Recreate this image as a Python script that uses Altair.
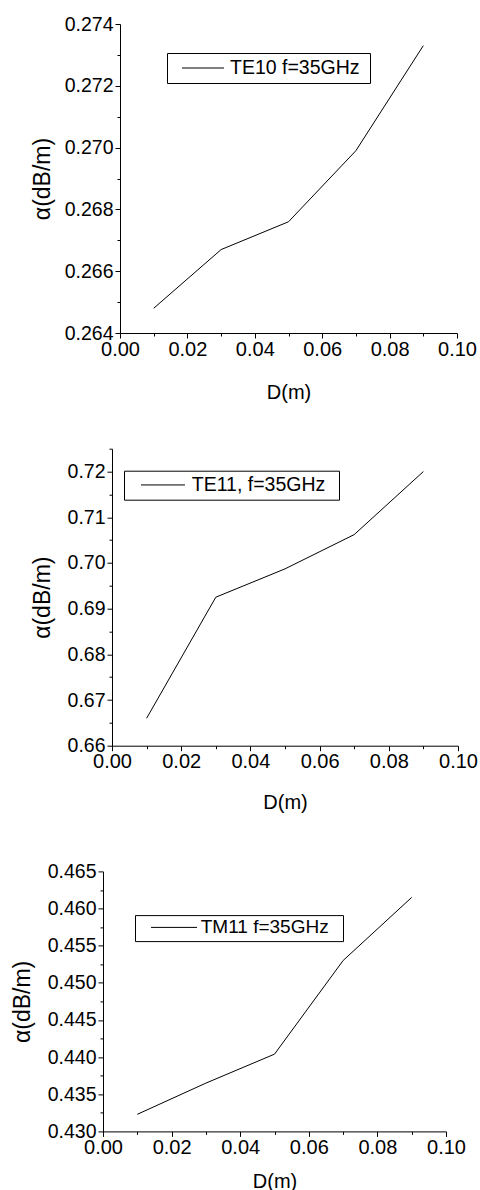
import json
import altair as alt
import pandas as pd

# ---- data ----
D = [0.01, 0.03, 0.05, 0.07, 0.09]
te10 = [0.2648, 0.2667, 0.2676, 0.2699, 0.2733]
te11 = [0.6660, 0.6925, 0.6987, 0.7062, 0.7200]
tm11 = [0.4323, 0.4365, 0.4404, 0.4530, 0.4615]
names = ["TE10 f=35GHz", "TE11, f=35GHz", "TM11 f=35GHz"]

x_ticks = [0.00, 0.01, 0.02, 0.03, 0.04, 0.05, 0.06, 0.07, 0.08, 0.09, 0.10]
x_major = [0.00, 0.02, 0.04, 0.06, 0.08, 0.10]

y1_ticks = [0.264, 0.265, 0.266, 0.267, 0.268, 0.269, 0.270, 0.271, 0.272, 0.273, 0.274]
y1_major = [0.264, 0.266, 0.268, 0.270, 0.272, 0.274]
y2_ticks = [0.66, 0.665, 0.67, 0.675, 0.68, 0.685, 0.69, 0.695, 0.70, 0.705, 0.71, 0.715, 0.72, 0.725]
y2_major = [0.66, 0.67, 0.68, 0.69, 0.70, 0.71, 0.72]
y3_ticks = [0.430, 0.4325, 0.435, 0.4375, 0.440, 0.4425, 0.445, 0.4475, 0.450,
            0.4525, 0.455, 0.4575, 0.460, 0.4625, 0.465]
y3_major = [0.430, 0.435, 0.440, 0.445, 0.450, 0.455, 0.460, 0.465]

FONT = "Liberation Sans"


def make_axis(ticks, major, fmt, title, title_pad, label_pad, fsize, tsize, offset=0):
    arr = json.dumps(major)
    kw = {}
    if offset:
        kw["offset"] = offset
    return alt.Axis(
        values=ticks,
        format=fmt,
        title=title,
        labelExpr=f"indexof({arr}, datum.value) >= 0 ? datum.label : ''",
        tickSize={"condition": {"test": f"indexof({arr}, datum.value) < 0", "value": 3}, "value": 5},
        grid=False,
        labelFlush=False,
        labelOverlap=False,
        titlePadding=title_pad,
        labelPadding=label_pad,
        labelFont=FONT,
        labelFontSize=fsize,
        titleFont=FONT,
        titleFontSize=tsize,
        **kw,
    )


def panel(vals, name, yticks, ymajor, yfmt, ydom, shift, w, h, ytp, xtp,
          lx, ly, line_len, box_start, gap, pad, lfs, right_pad, top_gap=0):
    df = pd.DataFrame({"D": D, "alpha": vals, "series": name})
    # legend symbol: horizontal stroke drawn from a custom path (unit = 5 px at size 100)
    S = max(11, lfs)
    start = box_start - pad
    soff = start - 0.5 * S
    path = f"M0,0H{line_len / 5:.2f}"
    loff = start + line_len + gap - S
    xscale = alt.Scale(domain=[0, 0.1], nice=False, zero=False)
    if shift:
        xscale = alt.Scale(domain=[0, 0.1], nice=False, zero=False, range=[shift, shift + w])
    props = dict(width=w + shift, height=h)
    if top_gap:
        props["title"] = alt.TitleParams(text=" ", fontSize=1, offset=top_gap)
    return alt.Chart(df).mark_line(strokeWidth=1).encode(
        x=alt.X("D:Q", scale=xscale,
                axis=make_axis(x_ticks, x_major, ".2f", "D(m)", xtp, 1, 20, 20)),
        y=alt.Y("alpha:Q", scale=alt.Scale(domain=ydom, nice=False, zero=False),
                axis=make_axis(yticks, ymajor, yfmt, "α(dB/m)", ytp, 2, 19.5, 23, -shift)),
        color=alt.Color("series:N",
                        scale=alt.Scale(range=["black"]),
                        legend=alt.Legend(orient="none", legendX=lx, legendY=ly,
                                          title=" ", titleOrient="right", titleFontSize=1,
                                          titlePadding=right_pad,
                                          symbolType=path, symbolSize=100,
                                          symbolStrokeWidth=1, symbolStrokeColor="black",
                                          symbolOffset=soff,
                                          labelOffset=loff, padding=pad,
                                          strokeColor="black", labelFontSize=lfs,
                                          labelFont=FONT, labelColor="black")),
    ).properties(**props)


p1 = panel(te10, names[0], y1_ticks, y1_major, ".3f", [0.264, 0.274], 17, 337, 309, 9.5, 23,
           64, 29, 42, 15, 6, 5.25, 19.5, 5)
p2 = panel(te11, names[1], y2_ticks, y2_major, ".2f", [0.66, 0.725], 9, 346, 297, 13, 21,
           21, 22, 44, 17, 4, 4.5, 19.5, 9)
p3 = panel(tm11, names[2], y3_ticks, y3_major, ".3f", [0.430, 0.465], 0, 343, 260, 12.7, 14,
           32, 43.7, 46, 16, 0, 2.8, 19, 11.4, top_gap=11)

chart = alt.vconcat(p1, p2, p3, spacing=36.7).resolve_scale(
    color="independent", x="independent", y="independent"
).resolve_legend(color="independent").properties(
    padding={"left": 11, "top": 14, "right": 0, "bottom": 0}
).configure_view(stroke="transparent", strokeWidth=0).configure_axis(
    titleFontWeight="normal", labelColor="black", titleColor="black",
    domainColor="black", tickColor="black", domainWidth=1, tickWidth=1,
)

chart.save("out.html", embed_options={"renderer": "svg", "actions": False})
